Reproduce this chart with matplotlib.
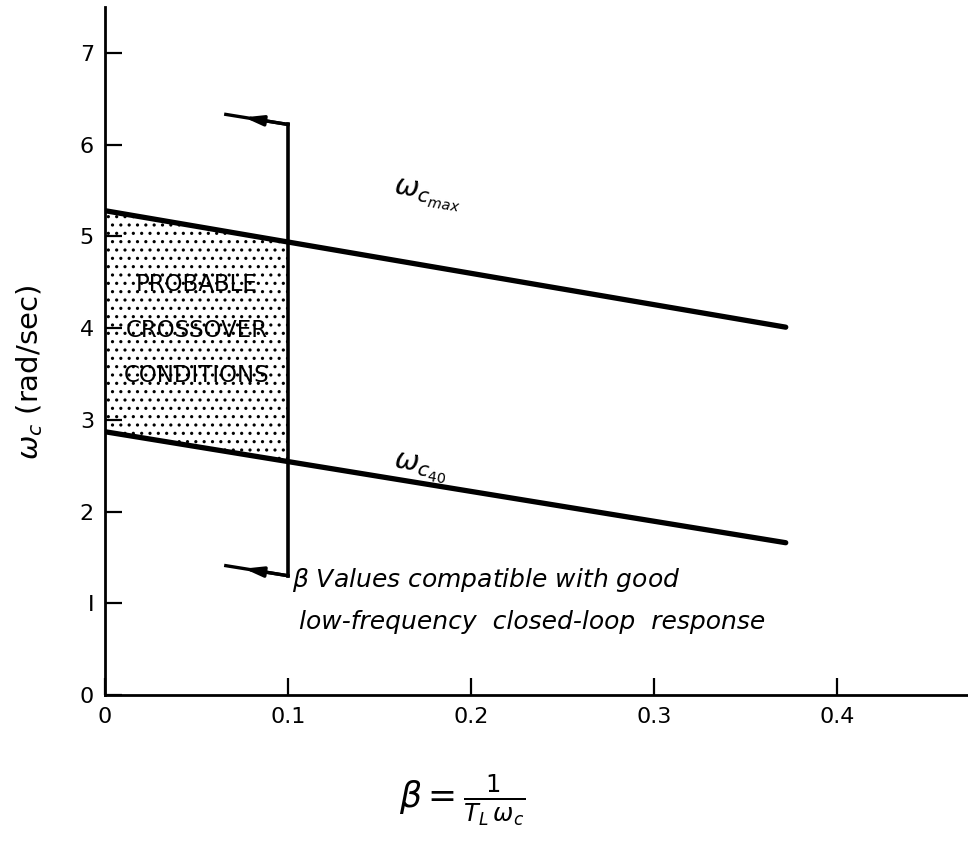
import numpy as np
import matplotlib
matplotlib.use("Agg")
import matplotlib.pyplot as plt

plt.rcParams["hatch.linewidth"] = 1.1

# --- data ---
beta_line = [0.0, 0.372]
wc_max = [5.28, 4.01]
wc_40 = [2.87, 1.66]

# shaded region: beta from 0 to 0.1 between the two lines
fill_beta = [0.0, 0.1]
fill_top = [5.28, 4.94]
fill_bottom = [2.87, 2.55]

# bracket at beta = 0.1
bracket_beta = 0.1
bracket_top = 6.22
bracket_bottom = 1.30
arrow_tail_beta = 0.066
arrow_top_y = 6.33
arrow_bottom_y = 1.41

xticks = [0, 0.1, 0.2, 0.3, 0.4]
xticklabels = ["0", "0.1", "0.2", "0.3", "0.4"]
yticks = [0, 1, 2, 3, 4, 5, 6, 7]
yticklabels = ["0", "I", "2", "3", "4", "5", "6", "7"]

fig = plt.figure(figsize=(9.68, 8.43), dpi=100)
ax = fig.add_axes([0.1085, 0.1756, 0.8915, 0.816])

ax.set_xlim(0, 0.4716)
ax.set_ylim(0, 7.5)

# stippled region
ax.fill_between(fill_beta, fill_bottom, fill_top, facecolor="white",
                edgecolor="black", hatch="..", linewidth=0, zorder=1)

ax.plot(beta_line, wc_max, color="black", lw=3.8, solid_capstyle="round", zorder=3)
ax.plot(beta_line, wc_40, color="black", lw=3.8, solid_capstyle="round", zorder=3)

# bracket with arrows
ax.plot([bracket_beta, bracket_beta], [bracket_bottom, bracket_top], color="black", lw=2.6, zorder=3)
for yb, yt in [(bracket_top, arrow_top_y), (bracket_bottom, arrow_bottom_y)]:
    ax.plot([bracket_beta, arrow_tail_beta], [yb, yt], color="black", lw=2.4, zorder=3)
    xm = 0.076
    ym = yb + (yt - yb) * (bracket_beta - xm) / (bracket_beta - arrow_tail_beta)
    ax.annotate("", xy=(xm, ym), xytext=(bracket_beta, yb),
                arrowprops=dict(arrowstyle="-|>,head_length=1.1,head_width=0.3",
                                color="black", lw=2.4, shrinkA=0, shrinkB=0))

# spines and ticks
for s in ["top", "right"]:
    ax.spines[s].set_visible(False)
for s in ["left", "bottom"]:
    ax.spines[s].set_linewidth(2.0)

ax.set_xticks(xticks)
ax.set_xticklabels(xticklabels)
ax.set_yticks(yticks)
ax.set_yticklabels(yticklabels)
ax.tick_params(axis="both", direction="in", length=12, width=1.6, labelsize=16)
ax.tick_params(axis="x", pad=9)
ax.tick_params(axis="y", pad=8)

# text
for label, yv in [("PROBABLE", 4.47), ("CROSSOVER", 3.97), ("CONDITIONS", 3.48)]:
    ax.text(0.05, yv, label, ha="center", va="center", fontsize=16.5, zorder=4)

ax.text(0.176, 5.45, r"$\omega_{c_{max}}$", fontsize=21, rotation=-9, ha="center", va="center")
ax.text(0.172, 2.47, r"$\omega_{c_{40}}$", fontsize=21, rotation=-9, ha="center", va="center")

ax.text(0.102, 1.25, r"$\beta$ Values compatible with good", fontsize=18,
        style="italic", ha="left", va="center")
ax.text(0.106, 0.80, "low-frequency  closed-loop  response", fontsize=18,
        style="italic", ha="left", va="center")

ax.set_ylabel(r"$\omega_c$ (rad/sec)", fontsize=21)
ax.yaxis.set_label_coords(-0.07, (695 - 372) / 688)
fig.text(0.477, 0.052, r"$\beta = \frac{1}{T_L\,\omega_c}$", fontsize=25, ha="center", va="center")

fig.savefig("out.png", dpi=100)
